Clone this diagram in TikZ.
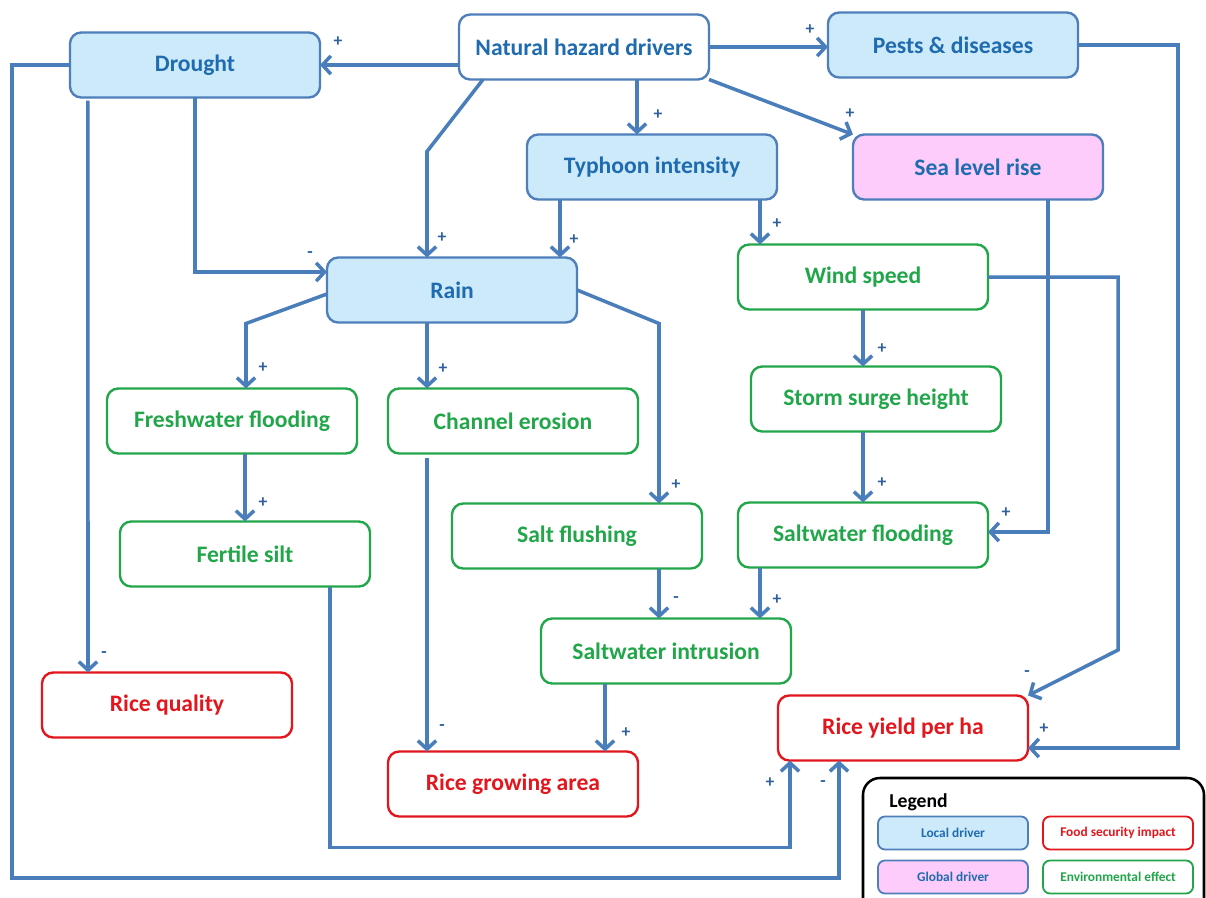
\documentclass[tikz,border=0pt]{standalone}
\usepackage{fontspec}
\setmainfont{Carlito}
\usetikzlibrary{arrows.meta,calc}

\definecolor{lineblue}{HTML}{4A7EBB}
\definecolor{boxblue}{HTML}{4F7FBA}
\definecolor{localfill}{HTML}{CDEAFB}
\definecolor{globalfill}{HTML}{FDCCFA}
\definecolor{textblue}{HTML}{1F6BB0}
\definecolor{signblue}{HTML}{2F5F9E}
\definecolor{effgreen}{HTML}{22A64A}
\definecolor{impred}{HTML}{E2161C}

\begin{document}
\begin{tikzpicture}[x=0.025cm,y=-0.025cm,
  box/.style={rounded corners=8pt,line width=1.7pt,minimum width=6.25cm,minimum height=1.625cm,inner sep=0pt,outer sep=0pt,font=\fontsize{16.8}{18}\selectfont\bfseries},
  hazard/.style={box,draw=boxblue,fill=white,text=textblue},
  local/.style={box,draw=boxblue,fill=localfill,text=textblue},
  global/.style={box,draw=boxblue,fill=globalfill,text=textblue},
  effect/.style={box,draw=effgreen,text=effgreen},
  impact/.style={box,draw=impred,text=impred},
  key/.style={rounded corners=5pt,line width=1.3pt,minimum width=3.75cm,minimum height=0.825cm,inner sep=0pt,font=\fontsize{9.5}{11}\selectfont\bfseries},
  arr/.style={draw=lineblue,line width=2.5pt,-{Straight Barb[length=6pt,width=13pt]}},
  sgn/.style={text=signblue,inner sep=0pt,font=\fontsize{12.5}{12}\selectfont\bfseries}]

\clip (0,0) rectangle (1206,897);
\fill[white] (0,0) rectangle (1206,897);

\node[hazard] (nhd) at (584,47) {Natural hazard drivers};
\node[local] (drought) at (195,65) {Drought};
\node[local] (pests) at (953,45) {Pests \& diseases};
\node[local] (typhoon) at (652,167) {Typhoon intensity};
\node[global] (sealevel) at (978,167) {Sea level rise};
\node[local] (rain) at (452,290) {Rain};
\node[effect] (wind) at (863,277) {Wind speed};
\node[effect] (fresh) at (232,421) {Freshwater flooding};
\node[effect] (channel) at (513,421) {Channel erosion};
\node[effect] (surge) at (876,399) {Storm surge height};
\node[effect] (silt) at (245,554) {Fertile silt};
\node[effect] (saltflush) at (577,536) {Salt flushing};
\node[effect] (swflood) at (863,535) {Saltwater flooding};
\node[effect] (intrusion) at (666,651) {Saltwater intrusion};
\node[impact] (quality) at (167,705) {Rice quality};
\node[impact] (yield) at (903,728) {Rice yield per ha};
\node[impact] (growing) at (513,784) {Rice growing area};

\draw[arr] (drought.east -| nhd.west) -- (drought.east);
\draw[arr] (nhd.east) -- (nhd.east -| pests.west);
\draw[arr] ($(nhd.south)+(53,0)$) -- ($(typhoon.north)+(-15,0)$);
\draw[arr] (nhd.south east) -- (sealevel.north west);
\draw[arr] ($(nhd.south)+(-101,0)$) -- ($(rain.north)+(-25,-106)$) -- ($(rain.north)+(-25,0)$);
\draw[arr] ($(typhoon.south)+(-92,0)$) -- ($(rain.north)+(108,0)$);
\draw[arr] ($(typhoon.south)+(108,0)$) -- ($(wind.north)+(-103,0)$);
\draw[arr] (drought.south) |- ($(rain.west)+(0,-18)$);
\draw[arr] ($(drought.south west)+(18,3)$) -- ($(quality.north)+(-79,0)$);
\draw[arr] (drought.west) -- ++(-58,0) -- ++(0,813) -| ($(yield.south)+(-64,0)$);
\draw[arr] ($(rain.west)+(0,4)$) -- ($(fresh.north)+(14,-65)$) -- ($(fresh.north)+(14,0)$);
\draw[arr] ($(rain.south)+(-25,0)$) -- ($(channel.north)+(-86,0)$);
\draw[arr] (rain.east) -- ($(saltflush.north)+(82,-180)$) -- ($(saltflush.north)+(82,0)$);
\draw[arr] (wind.south) -- (wind.south |- surge.north);
\draw[arr] (wind.east) -- ++(130,0) -- ++(0,373) -- (yield.north east);
\draw[arr] ($(sealevel.south)+(70,0)$) |- ($(swflood.east)+(0,-3)$);
\draw[arr] (swflood.north |- surge.south) -- (swflood.north);
\draw[arr] (pests.east) -| ($(yield.east)+(150,20)$) -- ($(yield.east)+(0,20)$);
\draw[arr] (silt.north |- fresh.south) -- (silt.north);
\draw[arr] ($(silt.south)+(85,0)$) -- ++(0,261) -| ($(yield.south)+(-113,0)$);
\draw[arr] ($(channel.south)+(-86,4)$) -- ($(growing.north)+(-86,0)$);
\draw[arr] ($(saltflush.south)+(82,0)$) -- ($(intrusion.north)+(-7,0)$);
\draw[arr] ($(swflood.south)+(-103,0)$) -- ($(intrusion.north)+(94,0)$);
\draw[arr] ($(intrusion.south)+(-61,0)$) -- ($(growing.north)+(92,0)$);

\node[sgn] (s1) at (338,42) {+};
\node[sgn] (s2) at (810,30) {+};
\node[sgn] (s3) at (658,115) {+};
\node[sgn] (s4) at (850,114) {+};
\node[sgn] (s5) at (442,238) {+};
\node[sgn] (s6) at (574,240) {+};
\node[sgn] (s7) at (777,224) {+};
\node[sgn] (s8) at (310,255) {-};
\node[sgn] (s9) at (104,655) {-};
\node[sgn] (s10) at (263,368) {+};
\node[sgn] (s11) at (443,369) {+};
\node[sgn] (s12) at (676,485) {+};
\node[sgn] (s13) at (882,349) {+};
\node[sgn] (s14) at (1027,674) {-};
\node[sgn] (s15) at (1006,513) {+};
\node[sgn] (s16) at (882,483) {+};
\node[sgn] (s17) at (1044,729) {+};
\node[sgn] (s18) at (770,783) {+};
\node[sgn] (s19) at (823,784) {-};
\node[sgn] (s20) at (442,728) {-};
\node[sgn] (s21) at (676,600) {-};
\node[sgn] (s22) at (777,600) {+};
\node[sgn] (s23) at (626,733) {+};
\node[sgn] (s24) at (263,503) {+};

\draw[rounded corners=12pt,line width=1.8pt] (863,778) rectangle (1204,930);
\node[anchor=west,inner sep=0pt,font=\fontsize{14}{16}\selectfont\bfseries] (legend) at (889,802) {Legend};
\node[key,draw=boxblue,fill=localfill,text=textblue] (klocal) at (953,833) {Local driver};
\node[key,draw=impred,text=impred] (kimpact) at (1118,833) {Food security impact};
\node[key,draw=boxblue,fill=globalfill,text=textblue] (kglobal) at (953,877) {Global driver};
\node[key,draw=effgreen,text=effgreen] (keffect) at (1118,877) {Environmental effect};
\end{tikzpicture}
\end{document}
